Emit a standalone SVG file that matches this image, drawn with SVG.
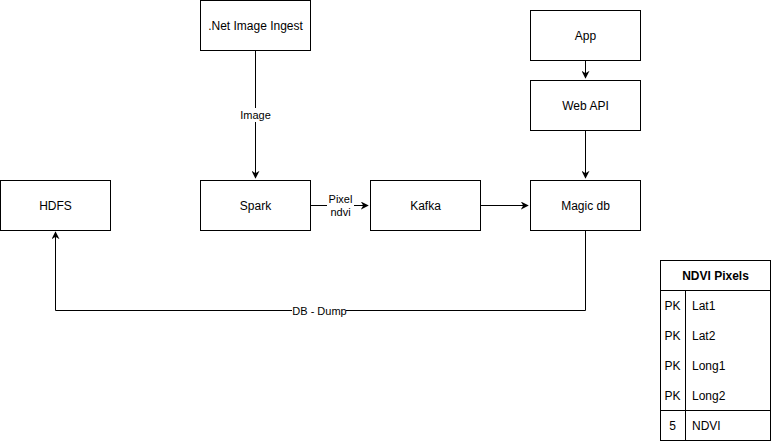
<svg xmlns="http://www.w3.org/2000/svg" width="771" height="442" viewBox="0 0 771 442">
<defs>
<style>
.box{fill:#fff;stroke:#000;stroke-width:1}
.t{font-family:"Liberation Sans",Arial,sans-serif;font-size:12px;fill:#000;text-anchor:middle;dominant-baseline:central}
.tl{font-family:"Liberation Sans",Arial,sans-serif;font-size:12px;fill:#000;dominant-baseline:central}
.lbl{font-family:"Liberation Sans",Arial,sans-serif;font-size:11px;fill:#000;text-anchor:middle;dominant-baseline:central}
.e{fill:none;stroke:#000;stroke-width:1}
.lb{fill:#fff}
</style>
<marker id="ah" viewBox="0 0 10 10" refX="9" refY="5" markerWidth="8" markerHeight="8" markerUnits="userSpaceOnUse" orient="auto">
<path d="M0,0 L10,5 L0,10 L3,5 Z" fill="#000"/>
</marker>
</defs>
<rect width="771" height="442" fill="#fff"/>
<g id="connectors">
<path class="e" d="M255.5,50.5 V178" marker-end="url(#ah)"/>
<rect class="lb" x="238" y="108" width="35" height="14"/>
<text class="lbl" x="255.5" y="115">Image</text>
<path class="e" d="M585.5,60.5 V78" marker-end="url(#ah)"/>
<path class="e" d="M585.5,130.5 V178" marker-end="url(#ah)"/>
<path class="e" d="M310.5,205.5 H368" marker-end="url(#ah)"/>
<rect class="lb" x="327" y="192" width="27" height="27"/>
<text class="lbl" x="340.5" y="199">Pixel</text>
<text class="lbl" x="340.5" y="212">ndvi</text>
<path class="e" d="M480.5,205.5 H528" marker-end="url(#ah)"/>
<path class="e" d="M585.5,230.5 V310.5 H55.5 V232" marker-end="url(#ah)"/>
<rect class="lb" x="292" y="303" width="54" height="14"/>
<text class="lbl" x="319.5" y="310.5">DB - Dump</text>
</g>
<g id="ingest"><rect class="box" x="200.5" y="0.5" width="110" height="50"/><text class="t" x="255.5" y="25.5">.Net Image Ingest</text></g>
<g id="app"><rect class="box" x="530.5" y="10.5" width="110" height="50"/><text class="t" x="585.5" y="35.5">App</text></g>
<g id="webapi"><rect class="box" x="530.5" y="80.5" width="110" height="50"/><text class="t" x="585.5" y="105.5">Web API</text></g>
<g id="hdfs"><rect class="box" x="0.5" y="180.5" width="110" height="50"/><text class="t" x="55.5" y="205.5">HDFS</text></g>
<g id="spark"><rect class="box" x="200.5" y="180.5" width="110" height="50"/><text class="t" x="255.5" y="205.5">Spark</text></g>
<g id="kafka"><rect class="box" x="370.5" y="180.5" width="110" height="50"/><text class="t" x="425.5" y="205.5">Kafka</text></g>
<g id="magicdb"><rect class="box" x="530.5" y="180.5" width="110" height="50"/><text class="t" x="585.5" y="205.5">Magic db</text></g>
<g id="ndvi-table">
<rect class="box" x="660.5" y="260.5" width="110" height="180"/>
<line class="e" x1="660.5" y1="290.5" x2="770.5" y2="290.5"/>
<line class="e" x1="660.5" y1="410.5" x2="770.5" y2="410.5"/>
<line class="e" x1="685.5" y1="290.5" x2="685.5" y2="440.5"/>
<text class="t" x="715.5" y="275.5" font-weight="bold">NDVI Pixels</text>
<text class="t" x="672.5" y="305.5">PK</text><text class="tl" x="692" y="305.5">Lat1</text>
<text class="t" x="672.5" y="335.5">PK</text><text class="tl" x="692" y="335.5">Lat2</text>
<text class="t" x="672.5" y="365.5">PK</text><text class="tl" x="692" y="365.5">Long1</text>
<text class="t" x="672.5" y="395.5">PK</text><text class="tl" x="692" y="395.5">Long2</text>
<text class="t" x="672.5" y="425.5">5</text><text class="tl" x="692" y="425.5">NDVI</text>
</g>
</svg>
